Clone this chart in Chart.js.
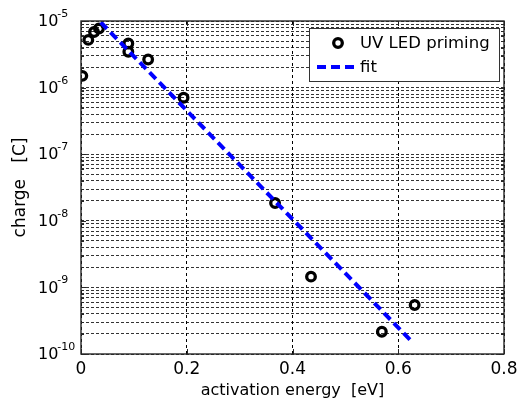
<!DOCTYPE html>
<html>
<head>
<meta charset="utf-8">
<script src="https://cdn.jsdelivr.net/npm/chart.js@4/dist/chart.umd.min.js"></script>
<style>
  html, body { margin: 0; padding: 0; background: #fff; }
  #wrap { width: 518px; height: 403px; }
</style>
</head>
<body>
<div id="wrap"><canvas id="chargeChart" width="518" height="403"></canvas></div>
<script>
// measured points (activation energy in eV, charge in C)
const energy = [0.0025, 0.0138, 0.0246, 0.034, 0.0895, 0.0895, 0.127, 0.194, 0.367, 0.435, 0.569, 0.631];
const charge = [1.5e-6, 5.2e-6, 6.84e-6, 7.7e-6, 4.6e-6, 3.46e-6, 2.64e-6, 7.05e-7, 1.85e-8, 1.45e-9, 2.16e-10, 5.44e-10];

// fit line end points
const fitEnergy = [0.0373, 0.6285];
const fitCharge = [9.56e-6, 1.46e-10];

const xTicks = [0, 0.2, 0.4, 0.6, 0.8];
const xTickLabels = ["0", "0.2", "0.4", "0.6", "0.8"];
const yDecades = [-10, -9, -8, -7, -6, -5];
const seriesLabels = ["UV LED priming", "fit"];

const FONT = "'DejaVu Sans', sans-serif";

// log grid: 1..9 x 10^n
let yTickValues = [];
yDecades.forEach((d, i) => {
  if (i === yDecades.length - 1) { yTickValues.push(Math.pow(10, d)); return; }
  for (let m = 1; m <= 9; m++) yTickValues.push(m * Math.pow(10, d));
});

const pointData = energy.map((e, i) => ({ x: e, y: charge[i] }));
const fitData = fitEnergy.map((e, i) => ({ x: e, y: fitCharge[i] }));

// frame box, inner ticks, decade labels and legend
const matlabLook = {
  id: "matlabLook",
  afterDraw(chart) {
    const { ctx, chartArea: a, scales } = chart;
    const ys = scales.y, xs = scales.x;
    ctx.save();

    // inner tick marks
    ctx.strokeStyle = "#262626";
    ctx.lineWidth = 1;
    ctx.setLineDash([]);
    ctx.beginPath();
    yTickValues.forEach(v => {
      const py = Math.round(ys.getPixelForValue(v)) + 0.5;
      const len = yDecades.some(d => Math.abs(Math.log10(v) - d) < 1e-9) ? 5 : 3;
      ctx.moveTo(a.left, py); ctx.lineTo(a.left + len, py);
      ctx.moveTo(a.right, py); ctx.lineTo(a.right - len, py);
    });
    xTicks.forEach(v => {
      const px = Math.round(xs.getPixelForValue(v)) + 0.5;
      ctx.moveTo(px, a.bottom); ctx.lineTo(px, a.bottom - 5);
      ctx.moveTo(px, a.top); ctx.lineTo(px, a.top + 5);
    });
    ctx.stroke();

    // box
    ctx.lineWidth = 1.4;
    ctx.strokeRect(a.left, a.top, a.right - a.left, a.bottom - a.top);

    // y decade labels 10^n
    ctx.fillStyle = "#000";
    yDecades.forEach(d => {
      const py = ys.getPixelForValue(Math.pow(10, d));
      const x0 = a.left - 43;
      ctx.font = "16px " + FONT;
      ctx.textAlign = "left";
      ctx.textBaseline = "middle";
      ctx.fillText("10", x0, py + 1);
      const w = ctx.measureText("10").width;
      ctx.font = "11px " + FONT;
      ctx.textBaseline = "alphabetic";
      ctx.fillText(String(d), x0 + w - 1, py - 4);
    });

    // legend
    const lw = 190, lh = 53;
    const lx = a.right - 5 - lw, ly = a.top + 7;
    ctx.fillStyle = "#fff";
    ctx.fillRect(lx, ly, lw, lh);
    ctx.strokeStyle = "#333";
    ctx.lineWidth = 1;
    ctx.strokeRect(lx + 0.5, ly + 0.5, lw, lh);

    ctx.strokeStyle = "#000";
    ctx.lineWidth = 3.3;
    ctx.beginPath();
    ctx.arc(lx + 29, ly + 15, 4.3, 0, Math.PI * 2);
    ctx.stroke();

    ctx.strokeStyle = "#0000ff";
    ctx.lineWidth = 4;
    ctx.setLineDash([9, 5]);
    ctx.beginPath();
    ctx.moveTo(lx + 8, ly + 39);
    ctx.lineTo(lx + 47, ly + 39);
    ctx.stroke();
    ctx.setLineDash([]);

    ctx.fillStyle = "#000";
    ctx.font = "16.5px " + FONT;
    ctx.textAlign = "left";
    ctx.textBaseline = "middle";
    ctx.fillText(seriesLabels[0], lx + 51, ly + 16);
    ctx.fillText(seriesLabels[1], lx + 51, ly + 40);

    ctx.restore();
  }
};

new Chart(document.getElementById("chargeChart"), {
  type: "scatter",
  data: {
    datasets: [
      {
        label: seriesLabels[1],
        type: "line",
        data: fitData,
        showLine: true,
        borderColor: "#0000ff",
        borderWidth: 4,
        borderDash: [9, 5],
        borderCapStyle: "butt",
        pointRadius: 0,
        fill: false,
        order: 0
      },
      {
        label: seriesLabels[0],
        data: pointData,
        showLine: false,
        pointStyle: "circle",
        pointRadius: 4.3,
        pointBorderWidth: 3.3,
        pointBorderColor: "#000",
        pointBackgroundColor: "rgba(0,0,0,0)",
        order: 1
      }
    ]
  },
  options: {
    responsive: false,
    animation: false,
    layout: { padding: { left: 0, right: 14, top: 21, bottom: 0 } },
    plugins: {
      legend: { display: false },
      tooltip: { enabled: false }
    },
    scales: {
      x: {
        type: "linear",
        min: 0,
        max: 0.8,
        afterBuildTicks: s => { s.ticks = xTicks.map(v => ({ value: v })); },
        afterFit: s => { s.height = 49; s.paddingLeft = 0; s.paddingRight = 0; },
        ticks: {
          autoSkip: false,
          maxRotation: 0,
          padding: 5,
          color: "#000",
          font: { family: FONT, size: 17 },
          callback: (v, i) => xTickLabels[i]
        },
        grid: { color: "#000", lineWidth: 1, drawTicks: false, borderDash: [3, 3] },
        border: { display: false, dash: [3, 3] },
        title: {
          display: true,
          text: "activation energy  [eV]",
          color: "#000",
          font: { family: FONT, size: 16 },
          padding: { top: 0, bottom: 3 }
        }
      },
      y: {
        type: "logarithmic",
        min: 1e-10,
        max: 1e-5,
        afterBuildTicks: s => { s.ticks = yTickValues.map(v => ({ value: v })); },
        afterFit: s => { s.width = 81; s.paddingTop = 0; s.paddingBottom = 0; },
        ticks: { display: false, autoSkip: false },
        grid: { color: "rgba(0,0,0,0.8)", lineWidth: 1, drawTicks: false, borderDash: [3, 2] },
        border: { display: false, dash: [3, 2] },
        title: {
          display: true,
          text: "charge   [C]",
          color: "#000",
          font: { family: FONT, size: 17 },
          padding: { top: 10, bottom: 0 }
        }
      }
    }
  },
  plugins: [matlabLook]
});
</script>
</body>
</html>
